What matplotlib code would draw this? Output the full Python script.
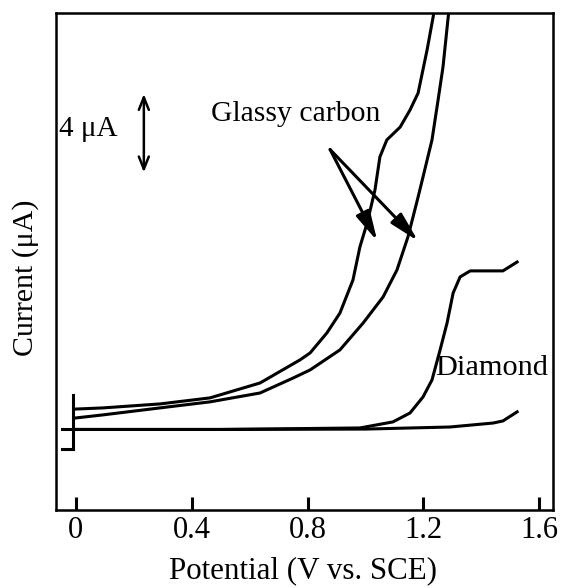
import numpy as np
import matplotlib.pyplot as plt

plt.rcParams['font.family'] = ['Liberation Serif', 'DejaVu Serif']

# glassy carbon, first curve (left)
gc1_v = [0.0, 0.093, 0.29, 0.463, 0.636, 0.774, 0.809, 0.867, 0.912, 0.957, 0.981, 1.006,
         1.033, 1.05, 1.074, 1.12, 1.154, 1.182, 1.213, 1.234, 1.238]
gc1_i = [1.08, 1.14, 1.35, 1.67, 2.46, 3.68, 4.05, 5.11, 6.16, 7.91, 9.66, 10.93,
         12.67, 14.42, 15.32, 16.0, 16.9, 17.8, 20.08, 21.83, 22.2]

# glassy carbon, second curve (right)
gc2_v = [0.0, 0.093, 0.29, 0.463, 0.636, 0.75, 0.809, 0.912, 0.992, 1.061, 1.109, 1.147,
         1.182, 1.199, 1.23, 1.251, 1.268, 1.286, 1.289]
gc2_i = [0.61, 0.77, 1.14, 1.46, 1.93, 2.72, 3.15, 4.21, 5.63, 7.01, 8.44, 10.19,
         12.3, 13.36, 15.32, 17.43, 19.18, 21.83, 22.2]

# diamond forward scan
dia_v = [0.0, 0.5, 0.981, 1.095, 1.154, 1.199, 1.23, 1.258, 1.282, 1.303, 1.327, 1.362, 1.475, 1.524]
dia_i = [0.0, 0.0, 0.08, 0.4, 0.87, 1.72, 2.62, 4.21, 5.63, 7.22, 8.07, 8.39, 8.39, 8.86]

# diamond baseline
base_v = [0.0, 0.5, 1.0, 1.292, 1.441, 1.475, 1.524]
base_i = [0.0, 0.0, 0.02, 0.13, 0.34, 0.45, 0.93]

xticks = [0, 0.4, 0.8, 1.2, 1.6]
xticklabels = ['0', '0.4', '0.8', '1.2', '1.6']

fig = plt.figure(figsize=(5.64, 5.88), dpi=100)
ax = fig.add_axes([0.0988, 0.1327, 0.8817, 0.846])

lw = 2.2
ax.plot(gc1_v, gc1_i, color='black', lw=lw)
ax.plot(gc2_v, gc2_i, color='black', lw=lw)
ax.plot(dia_v, dia_i, color='black', lw=lw)
ax.plot(base_v, base_i, color='black', lw=lw)

# start marker at 0 V
ax.plot([-0.009, -0.009], [1.83, -1.05], color='black', lw=lw)
ax.plot([-0.049, 0.0], [0.0, 0.0], color='black', lw=lw)
ax.plot([-0.049, -0.009], [-1.05, -1.05], color='black', lw=lw)

ax.set_xlim(-0.0698, 1.648)
ax.set_ylim(-4.26, 22.06)

# scale bar
ax.annotate('', xy=(0.2346, 17.75), xytext=(0.2346, 13.6),
            arrowprops=dict(arrowstyle='<->,head_length=0.5,head_width=0.2', color='black',
                            lw=1.8, mutation_scale=18, shrinkA=0, shrinkB=0))
ax.text(-0.059, 15.9, '4 \u03bcA', fontsize=21, va='center', ha='left')

ax.text(0.468, 16.69, 'Glassy carbon', fontsize=21.4, va='center', ha='left')
ax.text(1.24, 3.25, 'Diamond', fontsize=21.9, va='center', ha='left')

for tip in [(1.041, 9.97), (1.182, 9.97)]:
    ax.annotate('', xy=tip, xytext=(0.878, 14.81),
                arrowprops=dict(arrowstyle='-|>,head_length=0.9,head_width=0.22', color='black',
                                lw=2.2, mutation_scale=20, shrinkA=0, shrinkB=0))

ax.set_xticks(xticks)
ax.set_xticklabels(xticklabels, fontsize=22)
ax.set_yticks([])
ax.tick_params(axis='x', direction='in', length=9.5, width=2.2, pad=4.5)
for s in ax.spines.values():
    s.set_linewidth(1.8)

ax.set_xlabel('Potential (V vs. SCE)', fontsize=22.3)
ax.set_ylabel('Current (\u03bcA)', fontsize=21.5)
ax.xaxis.set_label_coords(0.497, -0.0925)
ax.yaxis.set_label_coords(-0.034, 0.467)

fig.savefig('out.png', dpi=100)
